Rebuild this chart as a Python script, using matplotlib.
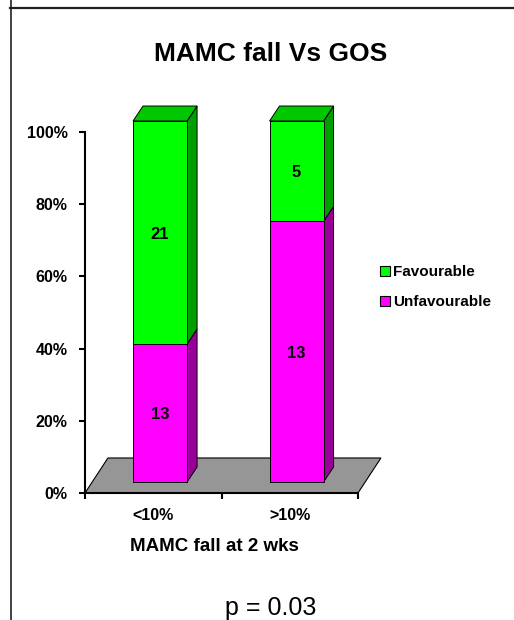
import matplotlib
matplotlib.use('Agg')
from matplotlib import pyplot as plt
from matplotlib.patches import Polygon, Patch
from matplotlib.lines import Line2D

categories = ['<10%', '>10%']
favourable = [21, 5]
unfavourable = [13, 13]
series_names = ['Favourable', 'Unfavourable']
y_ticks = [0, 20, 40, 60, 80, 100]

GREEN, GREEN_SIDE, GREEN_TOP = '#00ff00', '#009f00', '#00c800'
MAGENTA, MAGENTA_SIDE, MAGENTA_TOP = '#ff00ff', '#990099', '#cc00cc'
FLOOR = '#969696'

plt.rcParams['font.family'] = ['Liberation Sans', 'DejaVu Sans']

fig = plt.figure(figsize=(5.14, 6.2), dpi=100)
ax = fig.add_axes([85 / 514, 127 / 620, 273 / 514, 361 / 620])
ax.set_xlim(-0.5, 1.5)
ax.set_ylim(0, 100)

# fake 3d: depth offsets in data units
fdx, fdy = 0.168, 9.7      # floor
bdx, bdy = 0.073, 4.15     # bars
sx, sy = 0.05, 3.05        # bar front face shift
half = 0.198

floor = Polygon([(-0.5, 0), (1.5, 0), (1.5 + fdx, fdy), (-0.5 + fdx, fdy)],
                closed=True, facecolor=FLOOR, edgecolor='black', lw=0.8,
                clip_on=False, zorder=1)
ax.add_patch(floor)


def box(x0, x1, y0, y1, front, side, top=None):
    ax.add_patch(Polygon([(x1, y0), (x1 + bdx, y0 + bdy), (x1 + bdx, y1 + bdy), (x1, y1)],
                         closed=True, facecolor=side, edgecolor='black', lw=0.7,
                         clip_on=False, zorder=3))
    ax.add_patch(Polygon([(x0, y0), (x1, y0), (x1, y1), (x0, y1)],
                         closed=True, facecolor=front, edgecolor='black', lw=0.7,
                         clip_on=False, zorder=3))
    if top is not None:
        ax.add_patch(Polygon([(x0, y1), (x0 + bdx, y1 + bdy), (x1 + bdx, y1 + bdy), (x1, y1)],
                             closed=True, facecolor=top, edgecolor='black', lw=0.7,
                             clip_on=False, zorder=3))


for i, (fav, unf) in enumerate(zip(favourable, unfavourable)):
    total = fav + unf
    p_unf = unf / total * 100
    x0, x1 = i + sx - half, i + sx + half
    box(x0, x1, sy, sy + p_unf, MAGENTA, MAGENTA_SIDE)
    box(x0, x1, sy + p_unf, sy + 100, GREEN, GREEN_SIDE, GREEN_TOP)
    ax.text(i + sx, sy + p_unf / 2 - 0.5, str(unf), ha='center', va='center',
            fontsize=12, weight='bold', zorder=5)
    ax.text(i + sx, sy + p_unf + (100 - p_unf) / 2 - 0.5, str(fav), ha='center',
            va='center', fontsize=12, weight='bold', zorder=5)

for s in ['top', 'right']:
    ax.spines[s].set_visible(False)
for s in ['left', 'bottom']:
    ax.spines[s].set_linewidth(1.5)
ax.patch.set_visible(False)

ax.set_yticks(y_ticks)
ax.set_yticklabels([f'{v}%' for v in y_ticks])
ax.tick_params(axis='y', direction='out', length=4, width=1.5, pad=8.5,
               labelsize=11.5)
for lab in ax.get_yticklabels():
    lab.set_fontweight('bold')

ax.set_xticks([-0.5, 0.5, 1.5])
ax.set_xticklabels([])
ax.tick_params(axis='x', which='major', direction='out', length=4, width=1.5)
ax.set_xticks([0, 1], minor=True)
ax.set_xticklabels(categories, minor=True, fontsize=11.5, fontweight='bold')
ax.tick_params(axis='x', which='minor', length=0, pad=11)

ax.set_xlabel('MAMC fall at 2 wks', fontsize=13.5, fontweight='bold', va='center')
ax.xaxis.set_label_coords(0.473, -0.147)

fig.text(271 / 514, 1 - 54 / 620, 'MAMC fall Vs GOS', ha='center', va='center',
         fontsize=19, fontweight='bold')
fig.text(271 / 514, 1 - 615 / 620, 'p = 0.03', ha='center', va='baseline',
         fontsize=18)

handles = [Patch(facecolor=GREEN, edgecolor='black', lw=0.8),
           Patch(facecolor=MAGENTA, edgecolor='black', lw=0.8)]
fig.legend(handles, series_names, loc='upper left',
           bbox_to_anchor=(380 / 514, 1 - 265 / 620), frameon=False,
           borderpad=0, borderaxespad=0, handlelength=0.65, handleheight=0.65,
           handletextpad=0.2, labelspacing=1.05,
           prop={'weight': 'bold', 'size': 11})

fig.add_artist(Line2D([10 / 514, 1], [1 - 8 / 620, 1 - 8 / 620],
                      transform=fig.transFigure, color='#222222', lw=1.6))
fig.add_artist(Line2D([11 / 514, 11 / 514], [0, 1],
                      transform=fig.transFigure, color='#222222', lw=1.2))

fig.savefig('out.png', dpi=100)
plt.close(fig)
